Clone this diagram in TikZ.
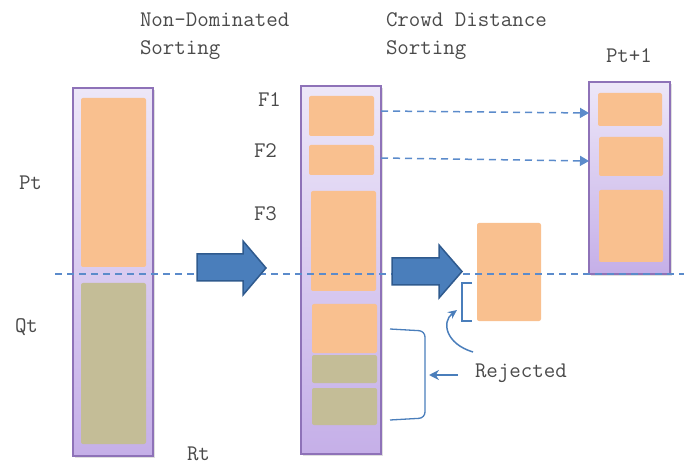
\documentclass[tikz,border=0pt]{standalone}
\usepackage{fontspec}
\usetikzlibrary{arrows.meta,shadows}
\definecolor{colTop}{HTML}{EDE7F8}
\definecolor{colBot}{HTML}{C5AFE8}
\definecolor{colEdge}{HTML}{8E72B8}
\definecolor{orangeF}{HTML}{F9C08F}
\definecolor{khakiF}{HTML}{C4BD97}
\definecolor{arrowF}{HTML}{4A7EBB}
\definecolor{arrowE}{HTML}{2F5A8E}
\definecolor{dashC}{HTML}{5B8BCB}
\definecolor{lineC}{HTML}{4A7EBB}
\definecolor{txtC}{HTML}{4A4A4A}
\newcommand\mybox[6]{\node[#6, anchor=north west, minimum width={(#4-#2)*1bp}, minimum height={(#5-#3)*1bp}] (#1) at (#2,#3) {};}
\tikzset{
  column/.style={draw=colEdge, line width=1.5bp, top color=colTop, bottom color=colBot, inner sep=0, outer sep=0,
     drop shadow={opacity=0.25, shadow xshift=1.5bp, shadow yshift=-2bp}},
  obox/.style={fill=orangeF, rounded corners=2bp, inner sep=0, outer sep=0},
  kbox/.style={fill=khakiF, rounded corners=2bp, inner sep=0, outer sep=0},
  lbl/.style={font=\ttfamily\fontsize{22.3bp}{28bp}\selectfont, text=txtC, inner sep=0, outer sep=0},
  bigarrow/.style={fill=arrowF, draw=arrowE, line width=1.5bp, line join=miter},
  cut/.style={draw=dashC, line width=1.5bp, dash pattern=on 7bp off 5bp},
  moveto/.style={draw=dashC, line width=1.5bp, dash pattern=on 7bp off 5bp, -{Triangle[length=9bp,width=10bp]}},
  thinblue/.style={draw=lineC, line width=1.3bp},
}
\begin{document}
\begin{tikzpicture}[x=1bp,y=-1bp]
\useasboundingbox (0,0) rectangle (684,465);
% columns
\mybox{L}{73}{88}{153}{456}{column}
\mybox{M}{301}{86}{381}{454}{column}
\mybox{R}{589}{82}{670}{274}{column}
% left column content
\mybox{Lp}{81}{98}{146}{267}{obox}
\mybox{Lq}{81}{283}{146}{444}{kbox}
% middle column content
\mybox{F1b}{309}{96}{374}{136}{obox}
\mybox{F2b}{309}{145}{374}{175}{obox}
\mybox{F3b}{311}{191}{376}{291}{obox}
\mybox{F4b}{312}{304}{377}{353}{obox}
\mybox{F5b}{312}{355}{377}{383}{kbox}
\mybox{F6b}{312}{388}{377}{425}{kbox}
% right column content
\mybox{R1}{598}{93}{662}{126}{obox}
\mybox{R2}{599}{137}{663}{176}{obox}
\mybox{R3}{599}{190}{663}{262}{obox}
% rejected part
\mybox{Rej}{477}{223}{541}{321}{obox}
% cut line
\coordinate (cutA) at (55,274);
\coordinate (cutB) at (684,274);
\draw[cut] (cutA) -- (cutB);
% big arrows
\draw[bigarrow] (197,254) -- (243,254) -- (243,241) -- (266,268) -- (243,295) -- (243,281) -- (197,281) -- cycle;
\draw[bigarrow] (392,258) -- (439,258) -- (439,245) -- (462,271.5) -- (439,298) -- (439,285) -- (392,285) -- cycle;
% dashed move arrows
\coordinate (a1) at (M.east |- 0,111);
\coordinate (b1) at (R.west |- 0,113);
\coordinate (a2) at (M.east |- 0,158);
\coordinate (b2) at (R.west |- 0,161);
\draw[moveto] (a1) -- (b1);
\draw[moveto] (a2) -- (b2);
% small bracket
\coordinate (sb1) at (472,283);
\coordinate (sb2) at (472,321);
\draw[thinblue] (sb1) -- (462,283) -- (462,321) -- (sb2);
% big bracket
\coordinate (bb1) at (390,329);
\coordinate (bb2) at (390,420);
\draw[thinblue, rounded corners=6bp] (bb1) -- (425,331) -- (425,418) -- (bb2);
% labels
\node[lbl, anchor=north west, align=left] (nds) at (140,13) {Non-Dominated\\Sorting};
\node[lbl, anchor=north west, align=left] (cds) at (386,13) {Crowd Distance\\Sorting};
\node[lbl, anchor=base west] (pt1) at (606,63) {Pt+1};
\node[lbl, anchor=base west] (f1) at (258,107) {F1};
\node[lbl, anchor=base west] (f2) at (254,158) {F2};
\node[lbl, anchor=base west] (f3) at (254,221) {F3};
\node[lbl, anchor=base west] (pt) at (19,190) {Pt};
\node[lbl, anchor=base west] (qt) at (15,333) {Qt};
\node[lbl, anchor=base west] (rt) at (187,460) {Rt};
\node[lbl, anchor=base west] (rej) at (475,377) {Rejected};
% pointer arrows
\coordinate (ca) at (473,352);
\coordinate (cb) at (457,310);
\draw[thinblue, line width=1.5bp, -{Stealth[length=9bp,width=8bp]}] (ca) .. controls (446,344) and (441,322) .. (cb);
\coordinate (ra) at (458,375);
\coordinate (rb) at (429,375);
\draw[thinblue, line width=1.5bp, -{Stealth[length=10bp,width=10bp]}] (ra) -- (rb);
\end{tikzpicture}
\end{document}
